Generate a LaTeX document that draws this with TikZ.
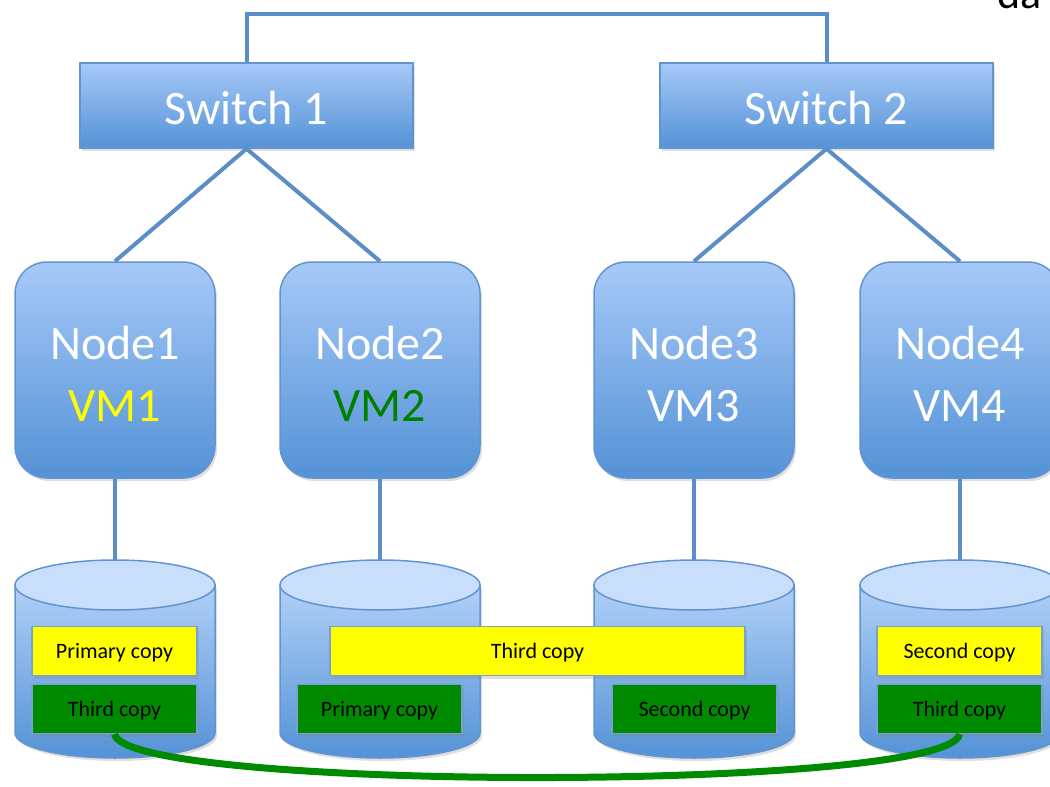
\documentclass[tikz,border=0pt]{standalone}
\usepackage{fontspec}
\setmainfont{Carlito}
\usetikzlibrary{positioning}
\usetikzlibrary{shadows}

% Define colours
\definecolor{shadetop}{RGB}{166,201,248}
\definecolor{shadebot}{RGB}{84,146,214}
\definecolor{cylside}{RGB}{176,208,248}
\definecolor{cyltop}{RGB}{200,222,250}
\definecolor{boxline}{RGB}{100,148,208}
\definecolor{linkblue}{RGB}{91,141,200}
\definecolor{copyline}{RGB}{120,160,210}
\definecolor{copyyellow}{RGB}{255,255,0}
\definecolor{copygreen}{RGB}{0,138,0}
\definecolor{vmgreen}{RGB}{0,128,0}
\definecolor{vmyellow}{RGB}{255,255,0}

\tikzset{
  softshadow/.style={drop shadow={opacity=0.25, shadow xshift=2pt, shadow yshift=-3pt}},
  bigtext/.style={text=white, align=center, inner sep=0pt, font=\fontsize{48}{62}\selectfont},
  switchbox/.style={rectangle, draw=boxline, line width=1.5pt, top color=shadetop,
    bottom color=shadebot, minimum width=333pt, minimum height=85pt, softshadow},
  hostbox/.style={rectangle, rounded corners=32pt, draw=boxline, line width=1.5pt,
    top color=shadetop, bottom color=shadebot, minimum width=200pt, minimum height=216pt,
    softshadow},
  copybox/.style={rectangle, draw=copyline, line width=1.2pt, minimum height=49pt,
    inner sep=0pt, text depth=0pt, text=black, font=\fontsize{22}{26}\selectfont, softshadow},
  link/.style={draw=linkblue, line width=4pt},
  replica/.style={draw=copygreen, line width=7pt}
}

\begin{document}
\begin{tikzpicture}[x=1pt, y=-1pt]
  % Frame of the picture
  \useasboundingbox (0,0) rectangle (1050,787);
  \clip (0,0) rectangle (1050,787);

  % Caption cut at the top edge
  \node[anchor=base west, inner sep=0pt, font=\fontsize{44}{50}\selectfont] (cap) at (997,9) {da};

  % Switches
  \node[switchbox, label={[bigtext, yshift=-3pt]center:Switch 1}] (sw1) at (246.5,105.5) {};
  \node[switchbox, label={[bigtext, yshift=-3pt]center:Switch 2}] (sw2) at (826.5,105.5) {};
  \coordinate (bus) at (537,14);

  % Hosts
  \node[hostbox, label={[bigtext, yshift=-4pt]center:Node1\\{\color{vmyellow}VM1}}] (n1) at (115,370) {};
  \node[hostbox, label={[bigtext, yshift=-4pt]center:Node2\\{\color{vmgreen}VM2}}] (n2) at (380,370) {};
  \node[hostbox, label={[bigtext, yshift=-4pt]center:Node3\\VM3}] (n3) at (694,370) {};
  \node[hostbox, label={[bigtext, yshift=-4pt]center:Node4\\VM4}] (n4) at (960,370) {};

  % Disks
  \foreach \x/\n in {115/1, 380/2, 694/3, 960/4} {
    \draw[top color=cylside, bottom color=shadebot, draw=boxline, line width=1.5pt, softshadow]
      (\x-100,585) -- (\x-100,733)
      arc[start angle=180, end angle=360, x radius=100pt, y radius=25pt]
      -- (\x+100,585) -- cycle;
    \filldraw[fill=cyltop, draw=boxline, line width=1.5pt] (\x,585) ellipse [x radius=100pt, y radius=25pt];
    \coordinate (disk\n) at (\x,560);
  }

  % Links
  \draw[link] (sw1.north) |- (bus) -| (sw2.north);
  \draw[link] (sw1.south) -- (n1.north);
  \draw[link] (sw1.south) -- (n2.north);
  \draw[link] (sw2.south) -- (n3.north);
  \draw[link] (sw2.south) -- (n4.north);
  \draw[link] (n1.south) -- (disk1);
  \draw[link] (n2.south) -- (disk2);
  \draw[link] (n3.south) -- (disk3);
  \draw[link] (n4.south) -- (disk4);

  % Copies on the disks
  \node[copybox, fill=copyyellow, minimum width=165pt] (p1) at (114.5,651) {Primary copy};
  \node[copybox, fill=copygreen, minimum width=165pt] (t1) at (114.5,709) {Third copy};
  \node[copybox, fill=copygreen, minimum width=165pt] (p2) at (379.5,709) {Primary copy};
  \node[copybox, fill=copyyellow, minimum width=415pt] (t2) at (537.5,651) {Third copy};
  \node[copybox, fill=copygreen, minimum width=165pt] (s3) at (694.5,709) {Second copy};
  \node[copybox, fill=copyyellow, minimum width=165pt] (s4) at (959.5,651) {Second copy};
  \node[copybox, fill=copygreen, minimum width=165pt] (t4) at (959.5,709) {Third copy};

  % Replication path
  \draw[replica] (t1.south) .. controls (125,792) and (950,792) .. (t4.south);

\end{tikzpicture}
\end{document}
